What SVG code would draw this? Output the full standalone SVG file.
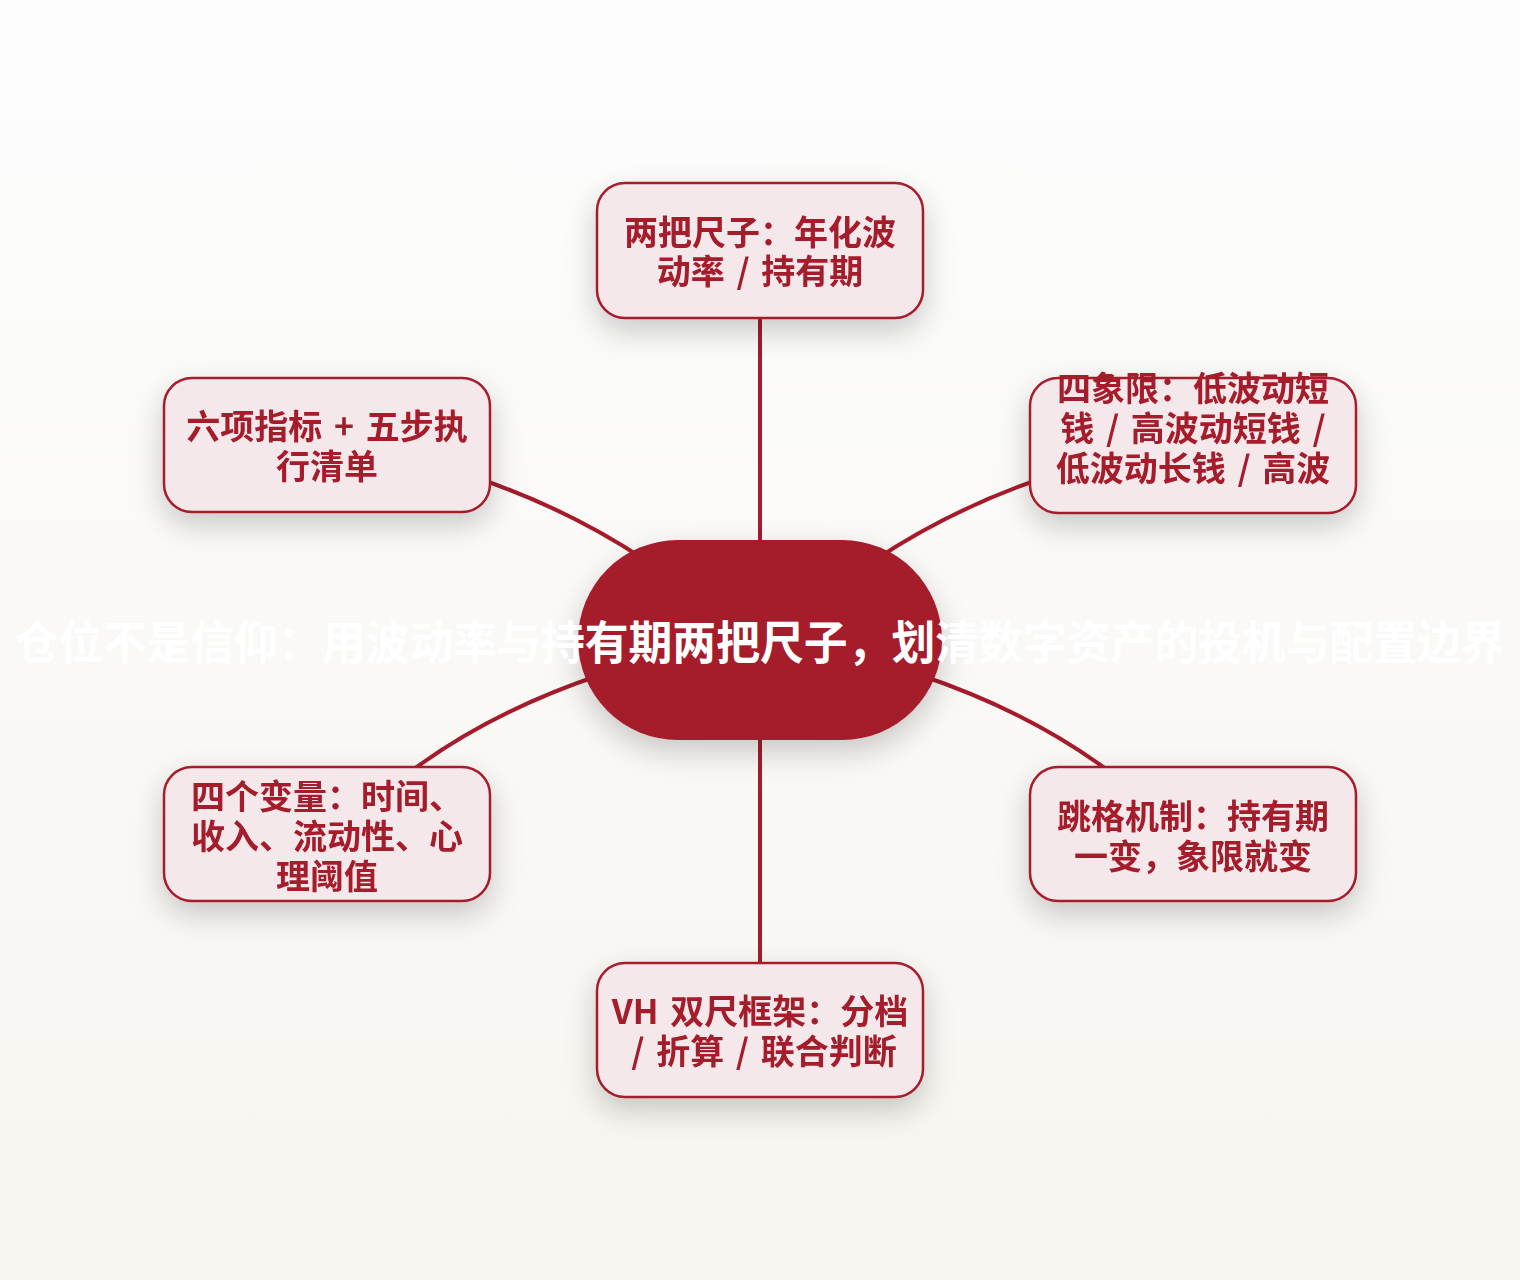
<svg xmlns="http://www.w3.org/2000/svg" width="1520" height="1280" viewBox="0 0 1520 1280">
  <defs>
    <linearGradient id="bg" x1="0" y1="0" x2="0" y2="1">
      <stop offset="0" stop-color="#fdfdfd"/>
      <stop offset="1" stop-color="#f7f5f0"/>
    </linearGradient>
    <filter id="shadow" x="-30%" y="-40%" width="160%" height="200%">
      <feDropShadow dx="0" dy="12" stdDeviation="15" flood-color="#000" flood-opacity="0.2"/>
    </filter>
    <style>
      .node rect { fill: #f5e8eb; stroke: #a51b2b; stroke-width: 2.5; }
      .node text { fill: #a51b2b; font-family: "Noto Sans CJK SC", "Liberation Sans", sans-serif; font-weight: bold; font-size: 34px; text-anchor: middle; dominant-baseline: central; word-spacing: 4px; }
      .conn path { fill: none; stroke: #a51b2b; stroke-width: 4; stroke-linecap: round; }
      .center-text { fill: #ffffff; font-family: "Noto Sans CJK SC", "Liberation Sans", sans-serif; font-weight: bold; font-size: 46px; text-anchor: middle; dominant-baseline: central; }
    </style>
  </defs>

  <rect x="0" y="0" width="1520" height="1280" fill="url(#bg)"/>

  <g id="connectors" class="conn">
    <path d="M 760 560 L 760 310"/>
    <path d="M 760 720 L 760 970"/>
    <path d="M 480 479 Q 570 510 645 560"/>
    <path d="M 1040 479 Q 950 510 875 560"/>
    <path d="M 600 675 Q 490 712 410 772"/>
    <path d="M 920 675 Q 1030 712 1110 772"/>
  </g>

  <g id="center" filter="url(#shadow)">
    <rect x="578" y="540" width="364" height="200" rx="100" ry="100" fill="#a51b2b"/>
  </g>

  <g id="node-top" class="node" filter="url(#shadow)">
    <rect x="597" y="183" width="326" height="135" rx="28"/>
    <text x="760" y="230">两把尺子：年化波</text>
    <text x="760" y="269">动率 / 持有期</text>
  </g>

  <g id="node-upper-right" class="node" filter="url(#shadow)">
    <rect x="1030" y="378" width="326" height="135" rx="28"/>
    <text x="1193" y="386">四象限：低波动短</text>
    <text x="1193" y="426">钱 / 高波动短钱 /</text>
    <text x="1193" y="466">低波动长钱 / 高波</text>
  </g>

  <g id="node-lower-right" class="node" filter="url(#shadow)">
    <rect x="1030" y="767" width="326" height="134" rx="28"/>
    <text x="1193" y="814">跳格机制：持有期</text>
    <text x="1193" y="854">一变，象限就变</text>
  </g>

  <g id="node-bottom" class="node" filter="url(#shadow)">
    <rect x="597" y="963" width="326" height="134" rx="28"/>
    <text x="760" y="1009">VH 双尺框架：分档</text>
    <text x="764" y="1049">/ 折算 / 联合判断</text>
  </g>

  <g id="node-lower-left" class="node" filter="url(#shadow)">
    <rect x="164" y="767" width="326" height="134" rx="28"/>
    <text x="327" y="794">四个变量：时间、</text>
    <text x="327" y="834">收入、流动性、心</text>
    <text x="327" y="874">理阈值</text>
  </g>

  <g id="node-upper-left" class="node" filter="url(#shadow)">
    <rect x="164" y="378" width="326" height="134" rx="28"/>
    <text x="327" y="424">六项指标 + 五步执</text>
    <text x="327" y="464">行清单</text>
  </g>

  <text id="center-label" class="center-text" x="760" y="639" textLength="1490" lengthAdjust="spacingAndGlyphs">仓位不是信仰：用波动率与持有期两把尺子，划清数字资产的投机与配置边界</text>
</svg>
